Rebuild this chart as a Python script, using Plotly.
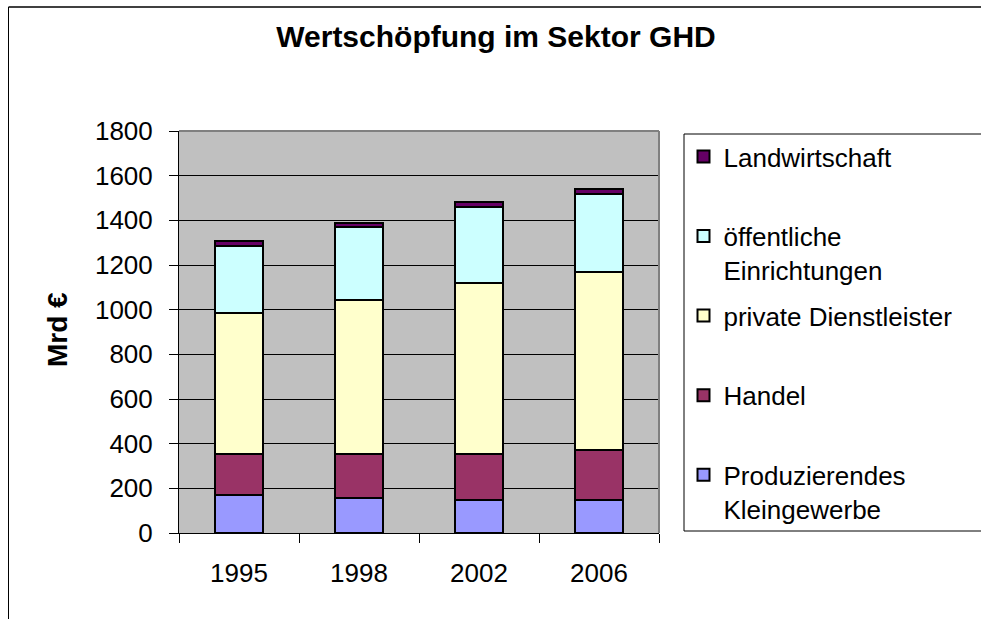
import plotly.graph_objects as go

years = ["1995", "1998", "2002", "2006"]
produzierendes = [170, 158, 149, 148]
handel = [184, 196, 205, 225]
private = [630, 691, 764, 794]
oeffentliche = [303, 324, 343, 353]
landwirtschaft = [22, 21, 23, 22]

series_names = ["Produzierendes<br>Kleingewerbe", "Handel<br>\u00a0", "private Dienstleister<br>\u00a0",
                "öffentliche<br>Einrichtungen", "Landwirtschaft<br>\u00a0"]
series_values = [produzierendes, handel, private, oeffentliche, landwirtschaft]
series_colors = ["#9999FF", "#993366", "#FFFFCC", "#CCFFFF", "#660066"]

FONT = "Liberation Sans, Arial, sans-serif"

fig = go.Figure()
n = len(series_names)
for i, (name, vals, col) in enumerate(zip(series_names, series_values, series_colors)):
    fig.add_trace(go.Bar(
        x=years, y=vals, name=name, legendgroup=f"g{i}", legendrank=n - i,
        marker=dict(color=col, line=dict(color="black", width=2)),
    ))

L, R, T, B = 179, 322, 131, 86
W, H = 981, 619
pw, ph = W - L - R, H - T - B

def px(xp):
    return (xp - L) / pw

def py(yp):
    return (H - B - yp) / ph

shapes = [
    dict(type="line", xref="paper", yref="paper", x0=0, x1=1, y0=1, y1=1,
         line=dict(color="#808080", width=2), layer="above"),
    dict(type="line", xref="paper", yref="paper", x0=1, x1=1, y0=0, y1=1,
         line=dict(color="#808080", width=2), layer="above"),
    dict(type="line", xref="paper", yref="paper", x0=px(8.5), x1=px(995), y0=py(7), y1=py(7),
         line=dict(color="#404040", width=2), layer="above"),
    dict(type="line", xref="paper", yref="paper", x0=px(8.5), x1=px(8.5), y0=py(7), y1=py(630),
         line=dict(color="black", width=1), layer="above"),
    dict(type="rect", xref="paper", yref="paper", x0=px(684), x1=px(995), y0=py(531), y1=py(134),
         line=dict(color="black", width=1), layer="below"),
]

fig.update_layout(
    width=W, height=H,
    margin=dict(l=L, r=R, t=T, b=B, autoexpand=False),
    paper_bgcolor="white",
    plot_bgcolor="#C0C0C0",
    barmode="stack",
    bargap=0.6,
    font=dict(family=FONT, size=26, color="black"),
    title=dict(text="<b>Wertschöpfung im Sektor GHD</b>", x=496 / W, xref="container",
               xanchor="center", y=1 - 36 / H, yref="container", yanchor="middle",
               font=dict(family=FONT, size=30, color="black")),
    showlegend=True,
    legend=dict(x=px(683.5), y=py(133), xanchor="left", yanchor="top",
                traceorder="grouped", tracegroupgap=9, valign="top",
                bgcolor="rgba(0,0,0,0)", borderwidth=0,
                font=dict(family=FONT, size=26, color="black")),
    xaxis=dict(type="category", showgrid=False, showline=True, linecolor="black", linewidth=1,
               ticks="outside", tickson="boundaries", ticklen=9, tickcolor="black", tickwidth=1,
               ticklabelstandoff=17, zeroline=False,
               tickfont=dict(family=FONT, size=26, color="black")),
    yaxis=dict(range=[0, 1800], dtick=200, showgrid=True, gridcolor="black", gridwidth=1,
               showline=True, linecolor="black", linewidth=1, zeroline=False,
               ticks="outside", ticklen=9, tickcolor="black", tickwidth=1,
               ticklabelstandoff=11,
               tickfont=dict(family=FONT, size=26, color="black")),
    shapes=shapes,
    annotations=[dict(text="<b>Mrd €</b>", xref="paper", yref="paper", x=px(57), y=py(330),
                      xanchor="center", yanchor="middle", textangle=-90, showarrow=False,
                      font=dict(family=FONT, size=28, color="black"))],
)

fig.write_html("out.html", config={"displayModeBar": False},
               post_script="document.body.style.margin='0';document.body.style.overflow='hidden';")
